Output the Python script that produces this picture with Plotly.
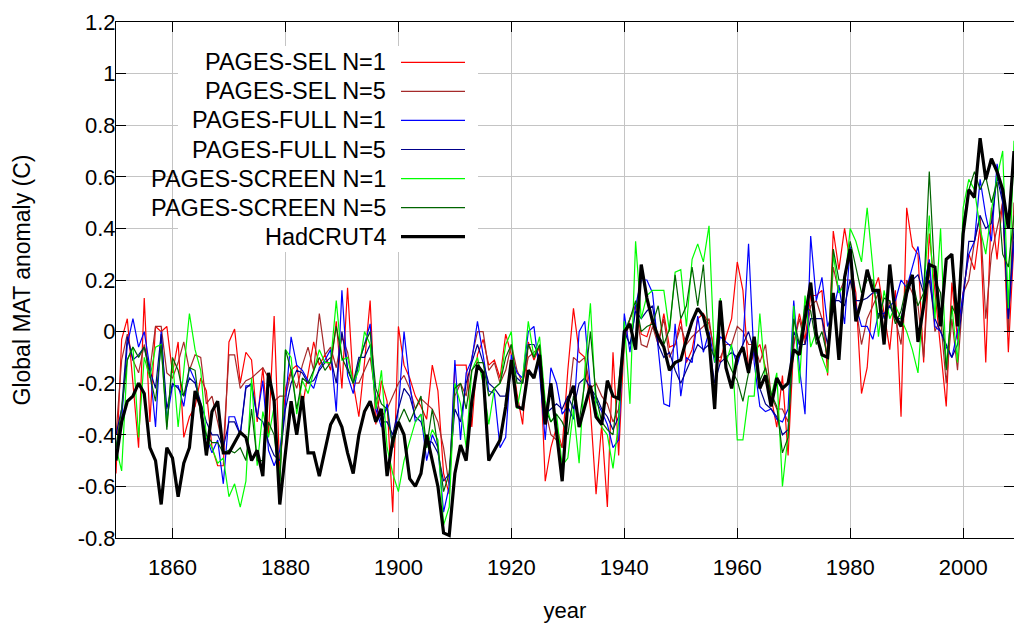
import plotly.graph_objects as go

years = list(range(1850, 2010))

sel_n1 = [
    -0.55, -0.03, 0.05, -0.19, -0.45, 0.13, -0.35, 0.02, 0.00, 0.02,
    -0.16, -0.04, -0.41, -0.33, -0.29, -0.18, -0.23, -0.45, -0.52, -0.52,
    -0.04, 0.01, -0.20, -0.08, -0.11, -0.35, -0.14, -0.40, 0.06, -0.55,
    -0.22, -0.15, -0.13, -0.29, -0.17, -0.04, -0.13, -0.09, -0.15, 0.04,
    -0.22, 0.17, -0.20, -0.33, -0.12, 0.12, -0.36, -0.19, -0.27, -0.70,
    0.02, -0.13, -0.18, -0.25, -0.29, -0.34, -0.13, -0.23, -0.55, -0.63,
    -0.13, -0.13, -0.13, -0.37, -0.09, -0.03, -0.13, -0.11, -0.18, -0.01,
    -0.09, -0.24, -0.36, -0.04, -0.11, -0.06, -0.58, -0.45, -0.37, -0.45,
    -0.15, 0.09, -0.08, -0.10, -0.30, -0.63, -0.36, -0.68, -0.08, -0.48,
    -0.03, 0.05, 0.10, -0.01, -0.02, 0.05, -0.05, 0.07, -0.06, -0.05,
    0.05, -0.12, -0.07, 0.05, 0.07, 0.03, -0.08, -0.12, -0.02, 0.05,
    0.27, 0.16, -0.15, -0.08, -0.05, -0.14, -0.25, -0.37, -0.17, -0.48,
    -0.05, 0.07, -0.03, 0.14, 0.14, 0.16, -0.17, 0.39, 0.24, 0.40,
    0.27, 0.15, -0.24, -0.14, 0.15, 0.21, 0.07, -0.07, 0.16, -0.33,
    0.48, 0.33, 0.30, -0.12, 0.38, 0.15, -0.05, -0.29, 0.19, -0.03,
    0.15, 0.30, 0.24, 0.41, -0.12, 0.48, 0.28, 0.51, -0.08, 0.35,
]

sel_n5 = [
    -0.40, -0.11, -0.01, -0.11, -0.16, -0.05, -0.15, 0.02, 0.02, -0.16,
    -0.18, -0.12, -0.04, -0.15, -0.09, -0.10, -0.28, -0.25, -0.35, -0.45,
    -0.09, -0.09, -0.22, -0.19, -0.18, -0.16, -0.14, -0.18, -0.27, -0.25,
    -0.25, -0.16, -0.22, -0.13, -0.06, -0.15, 0.07, -0.09, -0.06, -0.14,
    -0.02, -0.08, -0.20, -0.20, -0.15, -0.10, -0.25, -0.33, -0.30, -0.25,
    -0.20, -0.17, -0.22, -0.30, -0.26, -0.28, -0.30, -0.35, -0.45, -0.60,
    -0.25, -0.20, -0.25, -0.10, 0.00, 0.00, -0.15, -0.12, -0.20, -0.15,
    -0.05, -0.15, -0.20, -0.10, -0.08, -0.06, -0.30, -0.40, -0.42, -0.45,
    -0.30, -0.10, -0.12, -0.10, -0.22, -0.20, -0.25, -0.28, -0.35, -0.30,
    -0.05, 0.05, 0.10, -0.05, -0.06, 0.02, -0.05, 0.05, -0.10, -0.05,
    0.02, -0.05, -0.02, 0.00, 0.02, 0.05, -0.10, -0.10, -0.05, -0.05,
    0.02, 0.00, -0.05, -0.05, -0.12, -0.05, -0.25, -0.30, -0.30, -0.35,
    -0.05, 0.05, -0.05, 0.10, 0.12, 0.05, -0.12, 0.25, 0.15, 0.20,
    0.20, 0.10, -0.05, 0.05, 0.10, 0.15, 0.00, 0.12, 0.05, -0.05,
    0.20, 0.15, 0.10, -0.10, 0.25, 0.00, 0.05, -0.20, 0.05, -0.15,
    0.15, 0.20, 0.35, 0.45, 0.05, 0.30, 0.40, 0.50, 0.00, 0.50,
]

full_n1 = [
    -0.45, -0.34, -0.05, 0.05, -0.06, 0.00, -0.14, -0.37, 0.00, -0.34,
    -0.21, -0.21, -0.29, -0.14, -0.19, -0.30, -0.41, -0.47, -0.42, -0.59,
    -0.33, -0.33, -0.40, -0.21, -0.21, -0.33, -0.19, -0.46, -0.52, -0.46,
    -0.28, -0.02, -0.13, -0.15, -0.19, -0.22, -0.14, -0.11, -0.07, -0.31,
    0.16, -0.17, -0.24, -0.12, -0.05, 0.03, -0.30, -0.37, -0.28, -0.45,
    -0.30, 0.00, -0.20, -0.35, -0.32, -0.50, -0.40, -0.45, -0.70, -0.60,
    -0.11, -0.42, -0.16, -0.11, 0.04, -0.09, -0.23, -0.24, -0.45, -0.41,
    -0.09, -0.16, -0.18, 0.00, 0.02, -0.16, -0.42, -0.14, -0.20, -0.32,
    -0.29, -0.34, 0.00, 0.04, -0.22, -0.27, -0.31, -0.36, -0.45, -0.42,
    0.07, -0.08, 0.10, 0.20, 0.20, 0.15, -0.06, -0.28, -0.29, 0.03,
    -0.25, -0.10, -0.12, 0.06, -0.08, 0.00, -0.12, -0.02, -0.04, -0.06,
    -0.13, -0.05, 0.34, -0.12, -0.29, -0.31, -0.30, -0.34, -0.35, -0.30,
    0.12, -0.14, -0.32, 0.37, 0.12, 0.21, 0.02, 0.08, 0.18, 0.03,
    0.33, 0.10, 0.02, 0.02, -0.03, 0.07, 0.07, 0.10, 0.12, 0.20,
    0.17, 0.25, 0.33, 0.17, 0.28, 0.02, 0.00, -0.06, -0.10, 0.00,
    0.15, 0.30, 0.35, 0.59, 0.45, 0.35, 0.65, 0.51, 0.05, 0.35,
]

full_n5 = [
    -0.40, -0.30, -0.02, -0.11, -0.09, -0.06, -0.15, -0.22, -0.01, -0.30,
    -0.20, -0.22, -0.25, -0.18, -0.20, -0.28, -0.35, -0.40, -0.40, -0.45,
    -0.35, -0.35, -0.40, -0.22, -0.20, -0.33, -0.35, -0.43, -0.48, -0.50,
    -0.30, -0.20, -0.15, -0.16, -0.20, -0.19, -0.15, -0.12, -0.10, -0.20,
    0.00, -0.14, -0.20, -0.10, -0.10, -0.05, -0.28, -0.35, -0.35, -0.40,
    -0.30, -0.22, -0.25, -0.33, -0.35, -0.42, -0.43, -0.47, -0.58, -0.55,
    -0.30, -0.35, -0.20, -0.12, -0.05, -0.12, -0.20, -0.22, -0.25, -0.25,
    -0.15, -0.18, -0.20, -0.05, -0.05, -0.10, -0.32, -0.30, -0.28, -0.30,
    -0.25, -0.30, -0.20, -0.18, -0.22, -0.25, -0.30, -0.33, -0.38, -0.33,
    0.00, -0.05, 0.08, 0.05, 0.08, 0.10, -0.05, -0.10, -0.08, -0.15,
    -0.20, -0.15, -0.10, -0.05, -0.07, -0.05, -0.20, -0.12, -0.10, -0.08,
    -0.10, -0.05, 0.00, -0.08, -0.22, -0.28, -0.30, -0.33, -0.40, -0.38,
    0.00, -0.05, -0.05, 0.05, 0.05, 0.05, -0.05, 0.12, 0.12, 0.10,
    0.20, 0.12, 0.12, 0.13, 0.15, 0.15, 0.05, 0.10, 0.05, 0.05,
    0.15, 0.20, 0.22, 0.15, 0.20, 0.05, 0.00, -0.05, -0.10, -0.05,
    0.12, 0.35, 0.35, 0.45, 0.40, 0.42, 0.60, 0.50, 0.05, 0.40,
]

screen_n1 = [
    -0.45, -0.54, -0.11, -0.06, -0.41, -0.10, -0.18, -0.06, -0.05, -0.37,
    -0.11, -0.37, -0.15, 0.07, -0.07, -0.15, -0.41, -0.45, -0.51, -0.49,
    -0.64, -0.59, -0.68, -0.58, -0.18, -0.52, -0.31, -0.41, -0.29, -0.58,
    -0.07, -0.10, -0.32, -0.19, -0.24, -0.16, -0.07, -0.12, -0.12, 0.12,
    -0.11, -0.10, -0.20, -0.15, 0.00, -0.05, -0.30, -0.15, -0.45, -0.55,
    -0.62, -0.50, -0.42, -0.35, -0.32, -0.45, -0.38, -0.42, -0.75, -0.68,
    -0.20, -0.28, -0.45, -0.15, -0.10, -0.20, -0.36, -0.22, -0.20, -0.05,
    0.00, -0.30, -0.18, 0.04, -0.10, -0.02, -0.27, -0.35, -0.32, -0.52,
    -0.49, -0.30, -0.51, -0.15, 0.11, -0.30, -0.37, -0.40, -0.53, -0.35,
    0.04, -0.28, 0.35, 0.05, 0.14, 0.16, 0.16, 0.16, 0.00, 0.23,
    0.24, 0.02, 0.28, 0.34, 0.27, 0.41, -0.12, 0.13, -0.12, -0.05,
    -0.42, -0.42, -0.25, -0.25, 0.07, -0.19, -0.25, -0.16, -0.60, -0.40,
    0.10, -0.20, 0.14, -0.06, 0.00, -0.10, -0.16, 0.30, 0.15, 0.18,
    0.40, 0.35, 0.27, 0.48, 0.25, -0.02, 0.16, 0.05, 0.10, 0.05,
    0.00, -0.07, -0.16, 0.15, 0.45, 0.05, 0.40, -0.14, 0.10, -0.12,
    0.48, 0.59, 0.55, 0.40, 0.30, 0.47, 0.60, 0.70, 0.09, 0.74,
]

screen_n5 = [
    -0.45, -0.30, -0.11, -0.06, -0.10, -0.06, -0.17, -0.27, -0.05, -0.38,
    -0.10, -0.15, -0.25, -0.14, -0.15, -0.33, -0.40, -0.43, -0.43, -0.47,
    -0.46, -0.47, -0.45, -0.50, -0.30, -0.50, -0.50, -0.35, -0.40, -0.60,
    -0.07, -0.15, -0.30, -0.18, -0.20, -0.15, -0.10, -0.15, -0.12, 0.02,
    -0.10, -0.15, -0.20, -0.12, -0.05, 0.00, -0.22, -0.28, -0.30, -0.45,
    -0.35, -0.30, -0.35, -0.30, -0.25, -0.45, -0.30, -0.45, -0.62, -0.55,
    -0.22, -0.20, -0.30, -0.15, -0.12, -0.12, -0.25, -0.22, -0.20, -0.10,
    -0.05, -0.20, -0.20, -0.05, -0.10, -0.05, -0.30, -0.35, -0.32, -0.35,
    -0.40, -0.25, -0.35, -0.20, 0.00, -0.25, -0.35, -0.38, -0.40, -0.20,
    0.00, 0.05, 0.12, 0.00, 0.02, 0.03, 0.10, -0.05, 0.01, 0.22,
    0.05, 0.10, 0.25, 0.10, 0.26, -0.05, -0.10, 0.05, -0.10, -0.15,
    -0.19, -0.27, -0.16, -0.05, -0.19, -0.14, -0.24, -0.29, -0.47, -0.41,
    0.05, -0.05, 0.10, 0.08, -0.05, 0.00, -0.10, 0.32, 0.20, 0.20,
    0.35, 0.25, 0.15, 0.20, 0.20, 0.05, 0.13, 0.12, 0.03, 0.08,
    0.18, 0.20, 0.10, 0.15, 0.62, 0.20, 0.15, -0.15, 0.10, 0.05,
    0.42, 0.55, 0.62, 0.55, 0.60, 0.50, 0.58, 0.30, 0.25, 0.45,
]

hadcrut4 = [
    -0.50, -0.35, -0.27, -0.25, -0.20, -0.24, -0.45, -0.50, -0.67, -0.45,
    -0.49, -0.64, -0.51, -0.45, -0.23, -0.29, -0.48, -0.31, -0.27, -0.47,
    -0.47, -0.43, -0.39, -0.41, -0.50, -0.46, -0.56, -0.16, -0.27, -0.67,
    -0.48, -0.27, -0.40, -0.25, -0.47, -0.47, -0.56, -0.46, -0.36, -0.32,
    -0.37, -0.47, -0.55, -0.40, -0.31, -0.27, -0.35, -0.30, -0.56, -0.42,
    -0.35, -0.40, -0.57, -0.60, -0.55, -0.40, -0.50, -0.60, -0.78, -0.79,
    -0.55, -0.44, -0.50, -0.27, -0.13, -0.16, -0.50, -0.46, -0.42, -0.29,
    -0.11, -0.29, -0.30, -0.15, -0.18, -0.09, -0.36, -0.20, -0.40, -0.58,
    -0.27, -0.21, -0.37, -0.29, -0.21, -0.33, -0.36, -0.19, -0.25, -0.26,
    0.00, 0.03, -0.07, 0.26, 0.13, 0.04, -0.02, -0.06, -0.15, -0.12,
    -0.11, -0.03, 0.04, 0.09, 0.06, -0.03, -0.30, 0.12, -0.14, -0.22,
    -0.10, -0.06, -0.16, -0.02, -0.22, -0.17, -0.29, -0.18, -0.22, -0.20,
    -0.07, -0.09, 0.06, 0.19, -0.01, -0.09, -0.10, 0.15, -0.11, 0.21,
    0.32, 0.04, 0.12, 0.24, 0.16, 0.16, -0.05, 0.26, 0.06, 0.02,
    0.15, 0.22, -0.04, 0.10, 0.26, 0.25, 0.02, 0.28, 0.30, 0.02,
    0.38, 0.55, 0.52, 0.75, 0.59, 0.67, 0.62, 0.55, 0.40, 0.70,
]

series_names = ["PAGES-SEL N=1", "PAGES-SEL N=5", "PAGES-FULL N=1",
                "PAGES-FULL N=5", "PAGES-SCREEN N=1", "PAGES-SCREEN N=5",
                "HadCRUT4"]
series_values = [sel_n1, sel_n5, full_n1, full_n5, screen_n1, screen_n5, hadcrut4]
series_colors = ["#ff0000", "#a52a2a", "#0000ff", "#00008b", "#00ff00",
                 "#006400", "#000000"]
series_widths = [1.2, 1.2, 1.2, 1.2, 1.2, 1.2, 3.2]

x_tickvals = [1860, 1880, 1900, 1920, 1940, 1960, 1980, 2000]
y_tickvals = [-0.8, -0.6, -0.4, -0.2, 0, 0.2, 0.4, 0.6, 0.8, 1.0, 1.2]
y_ticktext = ["-0.8", "-0.6", "-0.4", "-0.2", "0", "0.2", "0.4", "0.6",
              "0.8", "1", "1.2"]

W, H = 1014, 624
# plot area in page pixels
L, R, T, B = 116, 1014, 22, 538
FONT = "Liberation Sans, Arial, Helvetica, sans-serif"


def px(xp):
    return (xp - L) / (R - L)


def py(yp):
    return (B - yp) / (B - T)


fig = go.Figure()
for name, vals, color, width in zip(series_names, series_values,
                                     series_colors, series_widths):
    fig.add_trace(go.Scatter(x=years, y=vals, mode="lines", name=name,
                             line=dict(color=color, width=width),
                             showlegend=False))

# custom legend (text on the left, sample line on the right)
shapes = [dict(type="rect", xref="paper", yref="paper",
               x0=px(178), x1=px(478), y0=py(252), y1=py(46),
               fillcolor="white", line=dict(width=0), layer="above")]
annotations = []
row0, row_step = 62.3, 29.07
for i, (name, color, width) in enumerate(zip(series_names, series_colors,
                                             series_widths)):
    yy = row0 + i * row_step
    shapes.append(dict(type="line", xref="paper", yref="paper",
                       x0=px(401), x1=px(465), y0=py(yy), y1=py(yy),
                       line=dict(color=color, width=width), layer="above"))
    annotations.append(dict(text=name, xref="paper", yref="paper",
                            x=px(388), y=py(yy), xanchor="right",
                            yanchor="middle", showarrow=False,
                            font=dict(family=FONT, size=23.5, color="black")))

fig.update_layout(
    width=W, height=H,
    margin=dict(l=L, r=W - R, t=T, b=H - B, autoexpand=False),
    paper_bgcolor="white", plot_bgcolor="white",
    font=dict(family=FONT, size=22, color="black"),
    shapes=shapes, annotations=annotations,
    showlegend=False,
)
fig.update_xaxes(
    range=[1850, 2009], tickvals=x_tickvals,
    showgrid=True, gridcolor="#c4c4c4", gridwidth=1,
    showline=True, linecolor="black", linewidth=1, mirror="allticks",
    ticks="inside", ticklen=10, tickcolor="black",
    zeroline=False, automargin=False, ticklabelstandoff=10,
    title=dict(text="year", standoff=23, font=dict(size=22)),
)
fig.update_yaxes(
    range=[-0.8, 1.2], tickvals=y_tickvals, ticktext=y_ticktext,
    showgrid=True, gridcolor="#c4c4c4", gridwidth=1,
    showline=True, linecolor="black", linewidth=1, mirror="allticks",
    ticks="inside", ticklen=10, tickcolor="black",
    zeroline=False, automargin=False, ticklabelstandoff=-5,
    title=dict(text="Global MAT anomaly (C)", standoff=40, font=dict(size=23)),
)

fig.write_html(
    "out.html",
    config={"displayModeBar": False},
    post_script="document.body.style.margin='0';"
                "document.body.style.overflow='hidden';",
)
